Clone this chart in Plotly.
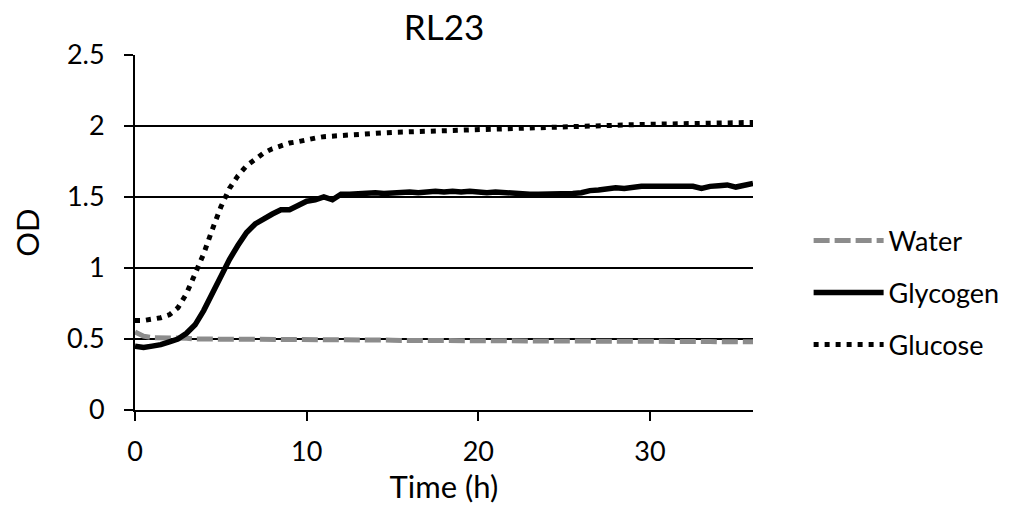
import plotly.graph_objects as go

time_h = [0, 0.5, 1, 1.5, 2, 2.5, 3, 3.5, 4, 4.5, 5, 5.5, 6, 6.5, 7, 7.5, 8, 8.5, 9, 9.5,
          10, 10.5, 11, 11.5, 12, 12.5, 13, 13.5, 14, 14.5, 15, 15.5, 16, 16.5, 17, 17.5,
          18, 18.5, 19, 19.5, 20, 20.5, 21, 21.5, 22, 22.5, 23, 23.5, 24, 24.5, 25, 25.5,
          26, 26.5, 27, 27.5, 28, 28.5, 29, 29.5, 30, 30.5, 31, 31.5, 32, 32.5, 33, 33.5,
          34, 34.5, 35, 35.5, 36]

water = [0.55, 0.52, 0.51, 0.51, 0.505, 0.505, 0.505, 0.50, 0.50, 0.50, 0.50, 0.50,
         0.50, 0.50, 0.50, 0.50, 0.50, 0.50, 0.50, 0.50, 0.497, 0.497, 0.495, 0.495,
         0.495, 0.495, 0.493, 0.493, 0.492, 0.492, 0.492, 0.49, 0.49, 0.49, 0.49, 0.49,
         0.49, 0.49, 0.49, 0.49, 0.488, 0.488, 0.488, 0.488, 0.488, 0.487, 0.487, 0.487,
         0.486, 0.486, 0.486, 0.485, 0.485, 0.485, 0.485, 0.485, 0.484, 0.484, 0.484, 0.484,
         0.483, 0.483, 0.483, 0.483, 0.482, 0.482, 0.482, 0.482, 0.481, 0.481, 0.481, 0.48,
         0.48]

glycogen = [0.45, 0.44, 0.45, 0.46, 0.48, 0.50, 0.54, 0.60, 0.70, 0.82, 0.95, 1.06,
            1.16, 1.25, 1.31, 1.35, 1.38, 1.41, 1.41, 1.44, 1.47, 1.48, 1.50, 1.48,
            1.52, 1.52, 1.525, 1.53, 1.53, 1.525, 1.53, 1.535, 1.535, 1.53, 1.535, 1.54,
            1.535, 1.54, 1.535, 1.54, 1.535, 1.53, 1.535, 1.53, 1.525, 1.525, 1.52, 1.52,
            1.52, 1.52, 1.525, 1.525, 1.53, 1.545, 1.55, 1.56, 1.565, 1.56, 1.57, 1.575,
            1.575, 1.575, 1.58, 1.58, 1.575, 1.575, 1.56, 1.575, 1.58, 1.585, 1.57, 1.58,
            1.595]

glucose = [0.63, 0.63, 0.64, 0.65, 0.67, 0.72, 0.82, 0.95, 1.10, 1.27, 1.43, 1.56,
           1.65, 1.72, 1.77, 1.81, 1.84, 1.86, 1.88, 1.89, 1.905, 1.915, 1.925, 1.93,
           1.935, 1.94, 1.943, 1.946, 1.95, 1.952, 1.955, 1.957, 1.96, 1.962, 1.965, 1.967,
           1.97, 1.972, 1.975, 1.977, 1.98, 1.982, 1.985, 1.987, 1.99, 1.992, 1.993, 1.995,
           1.997, 1.998, 2.0, 2.0, 2.002, 2.003, 2.005, 2.006, 2.008, 2.009, 2.01, 2.011,
           2.012, 2.013, 2.014, 2.015, 2.016, 2.017, 2.018, 2.019, 2.02, 2.021, 2.022, 2.023,
           2.025]

x_ticks = [0, 10, 20, 30]
y_ticks = [0, 0.5, 1, 1.5, 2, 2.5]
y_tick_text = ["0", "0.5", "1", "1.5", "2", "2.5"]

FONT = "Lato"

fig = go.Figure()
fig.add_trace(go.Scatter(x=time_h, y=water, mode="lines", name="Water", legendgroup="a",
                         line=dict(color="#8c8c8c", width=5, dash="16px,5px")))
fig.add_trace(go.Scatter(x=time_h, y=glycogen, mode="lines", name="Glycogen", legendgroup="b",
                         line=dict(color="black", width=5.5)))
fig.add_trace(go.Scatter(x=time_h, y=glucose, mode="lines", name="Glucose", legendgroup="c",
                         line=dict(color="black", width=5, dash="5px,6px")))

fig.update_layout(
    width=1017, height=518,
    margin=dict(l=135, r=264, t=55, b=108, autoexpand=False),
    paper_bgcolor="white", plot_bgcolor="white",
    font=dict(family=FONT, color="black", size=27),
    title=dict(text="RL23", x=0.5, xref="paper", xanchor="center", y=0.947, yanchor="middle",
               font=dict(size=35, family=FONT)),
    legend=dict(x=1.09, y=0.33, xanchor="left", yanchor="middle", tracegroupgap=14,
                itemwidth=70, font=dict(size=27, family=FONT), bgcolor="rgba(0,0,0,0)"),
    showlegend=True,
)
fig.update_xaxes(range=[0, 36], tickvals=x_ticks, ticks="outside", ticklen=9, tickwidth=2,
                 tickcolor="black", showline=True, linecolor="black", linewidth=2,
                 showgrid=False, zeroline=False, ticklabelstandoff=8,
                 title=dict(text="Time (h)", font=dict(size=31, family=FONT), standoff=10),
                 tickfont=dict(size=27))
fig.update_yaxes(range=[0, 2.5], tickvals=y_ticks, ticktext=y_tick_text, ticks="outside",
                 ticklen=9, tickwidth=2, tickcolor="black", showline=True, linecolor="black",
                 linewidth=2, showgrid=True, gridcolor="black", gridwidth=2, zeroline=False,
                 ticklabelstandoff=14,
                 title=dict(text="OD", font=dict(size=31, family=FONT), standoff=18),
                 tickfont=dict(size=27))

fig.write_html("out.html")
